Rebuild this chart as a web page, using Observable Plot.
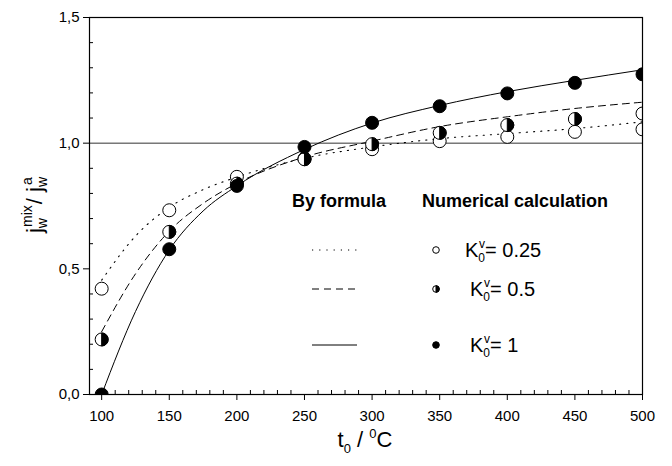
<!DOCTYPE html>
<html>
<head>
<meta charset="utf-8">
<script src="https://cdn.jsdelivr.net/npm/d3@7"></script>
<script src="https://cdn.jsdelivr.net/npm/@observablehq/plot@0.6"></script>
<style>
  html, body { margin: 0; padding: 0; background: white; }
  svg { display: block; }
</style>
</head>
<body>
<div id="chart"></div>
<script>
// ---- data ----
const temps = [100, 150, 200, 250, 300, 350, 400, 450, 500];
const num025 = [0.421, 0.733, 0.866, 0.939, 0.976, 1.008, 1.025, 1.045, 1.055];
const num05  = [0.219, 0.647, 0.839, 0.936, 0.996, 1.041, 1.072, 1.096, 1.118];
const num1   = [0.000, 0.578, 0.830, 0.985, 1.081, 1.147, 1.198, 1.240, 1.274];

const curveT = [100, 125, 150, 175, 200, 250, 300, 350, 400, 450, 500];
const f025 = [0.455, 0.630, 0.745, 0.815, 0.865, 0.940, 0.985, 1.018, 1.038, 1.058, 1.085];
const f05  = [0.250, 0.480, 0.650, 0.760, 0.840, 0.945, 1.008, 1.066, 1.105, 1.138, 1.163];
const f1   = [0.000, 0.330, 0.575, 0.730, 0.830, 0.975, 1.080, 1.150, 1.205, 1.250, 1.292];

const xTicks = [100, 150, 200, 250, 300, 350, 400, 450, 500];
const xMinor = [110,120,130,140,160,170,180,190,210,220,230,240,260,270,280,290,310,320,330,340,360,370,380,390,410,420,430,440,460,470,480,490];
const yTicks = [0, 0.5, 1.0, 1.5];
const yTickLabels = ["0,0", "0,5", "1,0", "1,5"];
const yMinor = [0.1,0.2,0.3,0.4,0.6,0.7,0.8,0.9,1.1,1.2,1.3,1.4];
const refLine = [1.0];

const legendLabels = ["0.25", "0.5", "1"];

// ---- tables ----
const pts = (ys) => temps.map((t, i) => ({t, v: ys[i]}));
const crv = (ys) => curveT.map((t, i) => ({t, v: ys[i]}));

// right-half-filled circle symbol
const rightHalf = {
  draw(context, size) {
    const r = Math.sqrt(size / Math.PI);
    context.moveTo(0, -r);
    context.arc(0, 0, r, -Math.PI / 2, Math.PI / 2);
    context.closePath();
  }
};

const R = 6.5;
const chart = Plot.plot({
  width: 672,
  height: 466,
  marginLeft: 89,
  marginRight: 30,
  marginTop: 17,
  marginBottom: 72,
  x: {domain: [91, 500], axis: null},
  y: {domain: [0, 1.5], axis: null},
  style: {fontFamily: "'Liberation Sans', Arial, sans-serif", fontSize: "15px", color: "black", background: "white"},
  marks: [
    Plot.ruleY(refLine, {stroke: "#333", strokeWidth: 1}),
    Plot.line(crv(f025), {x: "t", y: "v", curve: "monotone-x", stroke: "black", strokeWidth: 1.1, strokeDasharray: "1.2,6", clip: true}),
    Plot.line(crv(f05), {x: "t", y: "v", curve: "monotone-x", stroke: "black", strokeWidth: 1, strokeDasharray: "7,5", clip: true}),
    Plot.line(crv(f1), {x: "t", y: "v", curve: "monotone-x", stroke: "black", strokeWidth: 1, clip: true}),
    Plot.dot(pts(num025), {x: "t", y: "v", r: R, fill: "white", stroke: "black", strokeWidth: 1, clip: true}),
    Plot.dot(pts(num05), {x: "t", y: "v", r: R, fill: "white", stroke: "black", strokeWidth: 1, clip: true}),
    Plot.dot(pts(num05), {x: "t", y: "v", r: R, symbol: rightHalf, fill: "black", stroke: "black", strokeWidth: 1, clip: true}),
    Plot.dot(pts(num1), {x: "t", y: "v", r: R, fill: "black", stroke: "black", strokeWidth: 1, clip: true}),
    Plot.frame({stroke: "black", strokeWidth: 1.2}),
    Plot.axisX(xTicks, {tickSize: 6, tickPadding: 10, label: null, fontSize: 15}),
    Plot.axisX(xMinor, {tickSize: -4, tickFormat: () => "", label: null}),
    Plot.axisY(yTicks, {tickSize: 6, tickPadding: 4, label: null, fontSize: 15,
      tickFormat: (d) => yTickLabels[yTicks.indexOf(d)]}),
    Plot.axisY(yMinor, {tickSize: -4, tickFormat: () => "", label: null})
  ]
});
document.getElementById("chart").appendChild(chart);

const svg = d3.select(chart);
const FF = "'Liberation Sans', Arial, sans-serif";

// ---- extra safeguard: wrap data marks in a frame-sized clip ----
const [x0, x1] = chart.scale("x").range;
const yr = chart.scale("y").range;
const yTop = Math.min(...yr), yBot = Math.max(...yr);
svg.append("defs").append("clipPath").attr("id", "frameclip")
  .append("rect").attr("x", x0).attr("y", yTop).attr("width", x1 - x0).attr("height", yBot - yTop);
const dataGroups = chart.querySelectorAll("g[aria-label='dot'], g[aria-label='line']");
if (dataGroups.length) {
  const wrap = document.createElementNS("http://www.w3.org/2000/svg", "g");
  wrap.setAttribute("clip-path", "url(#frameclip)");
  dataGroups[0].parentNode.insertBefore(wrap, dataGroups[0]);
  dataGroups.forEach((g) => wrap.appendChild(g));
}

// ---- axis titles and legend (rich text) ----
// x title: t0 / 0C
const xt = svg.append("text").attr("x", 365).attr("y", 447).attr("text-anchor", "middle")
  .attr("font-family", FF).attr("font-size", 22).attr("fill", "black");
xt.append("tspan").text("t");
xt.append("tspan").attr("font-size", 13).attr("dy", 6).text("0");
xt.append("tspan").attr("dy", -6).text(" / ");
xt.append("tspan").attr("font-size", 13).attr("dy", -9).text("0");
xt.append("tspan").attr("dy", 9).text("C");

// y title: j_w^mix / j_w^a
const yt = svg.append("text").attr("transform", "translate(42,205) rotate(-90)")
  .attr("text-anchor", "middle").attr("font-family", FF).attr("font-size", 22).attr("fill", "black");
yt.append("tspan").text("j");
yt.append("tspan").attr("font-size", 14).attr("dy", 5).text("w");
yt.append("tspan").attr("font-size", 14).attr("dx", -9).attr("dy", -15).text("mix");
yt.append("tspan").attr("dx", 1).attr("dy", 10).text("/ j");
yt.append("tspan").attr("font-size", 14).attr("dy", 5).text("w");
yt.append("tspan").attr("font-size", 14).attr("dx", -8).attr("dy", -15).text("a");

// legend
const lg = svg.append("g").attr("font-family", FF).attr("fill", "black").attr("text-anchor", "start");
lg.append("text").attr("x", 292).attr("y", 207).attr("text-anchor", "start").attr("font-size", 18).attr("font-weight", "bold").text("By formula");
lg.append("text").attr("x", 422).attr("y", 207).attr("text-anchor", "start").attr("font-size", 18).attr("font-weight", "bold").text("Numerical calculation");
const rowsY = [250, 289, 345];
const dashes = ["1.2,6", "7,5", null];
rowsY.forEach((yy, i) => {
  const ln = lg.append("line").attr("x1", 312).attr("x2", 357).attr("y1", yy).attr("y2", yy)
    .attr("stroke", "black").attr("stroke-width", 1);
  if (dashes[i]) ln.attr("stroke-dasharray", dashes[i]);
  const cx = 436, r = 3.3;
  if (i === 0) {
    lg.append("circle").attr("cx", cx).attr("cy", yy).attr("r", r).attr("fill", "white").attr("stroke", "black");
  } else if (i === 1) {
    lg.append("circle").attr("cx", cx).attr("cy", yy).attr("r", r).attr("fill", "white").attr("stroke", "black");
    lg.append("path").attr("d", `M${cx},${yy - r}A${r},${r} 0 0 1 ${cx},${yy + r}Z`).attr("fill", "black").attr("stroke", "black");
  } else {
    lg.append("circle").attr("cx", cx).attr("cy", yy).attr("r", r).attr("fill", "black").attr("stroke", "black");
  }
  const tx = lg.append("text").attr("x", i === 0 ? 465 : 470).attr("y", yy + 7)
    .attr("text-anchor", "start").attr("font-size", 20);
  tx.append("tspan").text("K");
  tx.append("tspan").attr("font-size", 12).attr("dy", 5).text("0");
  tx.append("tspan").attr("font-size", 12).attr("dx", -6).attr("dy", -14).text("v");
  tx.append("tspan").attr("dy", 9).text("= " + legendLabels[i]);
});
</script>
</body>
</html>
